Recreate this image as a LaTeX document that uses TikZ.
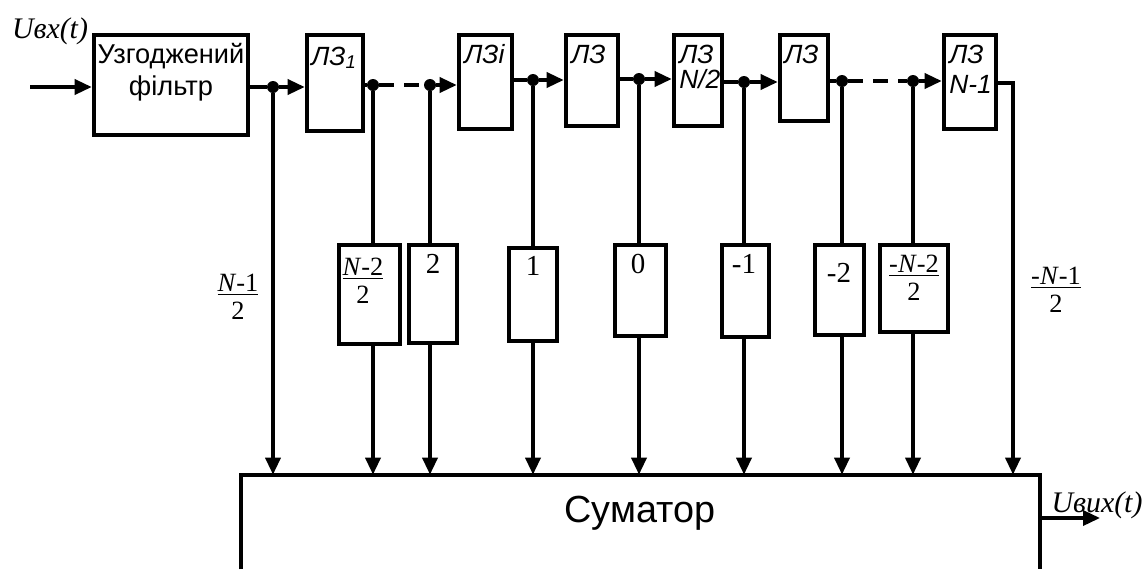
\documentclass[tikz,border=0pt]{standalone}
\usepackage{fontspec}
\setmainfont{Liberation Serif}
\setsansfont{Liberation Sans}
\usetikzlibrary{arrows.meta}

\newcommand{\wfrac}[2]{\underline{#1}\\#2}

\tikzset{
  blk/.style={draw, line width=2.6pt, inner sep=0pt},
  sig/.style={line width=2pt},
  arr/.style={sig, -{Triangle[length=0.34cm, width=0.3cm]}},
  tap/.style={circle, fill, inner sep=0pt, minimum size=0.24cm},
  ftxt/.style={font=\sffamily\fontsize{15.5}{18}\selectfont, inner sep=0pt, anchor=base},
  dztxt/.style={font=\sffamily\itshape\fontsize{15}{17}\selectfont, inner sep=0pt, anchor=base west},
  wtxt/.style={font=\fontsize{16.5}{19}\selectfont, inner sep=0pt, anchor=base},
  frtxt/.style={font=\fontsize{15}{15.5}\selectfont, inner sep=0pt, anchor=base, align=center},
  utxt/.style={font=\itshape\fontsize{17}{19}\selectfont, inner sep=0pt, anchor=base}
}

\begin{document}
\begin{tikzpicture}[x=0.02cm, y=-0.02cm]
  \useasboundingbox (0,0) rectangle (1147,569);

  \node [blk, minimum width=3.08cm, minimum height=2cm] (filt) at (171,85) {};
  \node [ftxt] (filt1) at (171,63) {Узгоджений};
  \node [ftxt] (filt2) at (171,95) {фільтр};

  \node [blk, minimum width=1.12cm, minimum height=1.92cm] (dz1) at (335,83) {};
  \node [blk, minimum width=1.06cm, minimum height=1.88cm] (dzi) at (485.5,82) {};
  \node [blk, minimum width=1.04cm, minimum height=1.82cm] (dz3) at (592,80.5) {};
  \node [blk, minimum width=0.96cm, minimum height=1.82cm] (dz4) at (698,80.5) {};
  \node [blk, minimum width=0.96cm, minimum height=1.72cm] (dz5) at (804,78) {};
  \node [blk, minimum width=1.04cm, minimum height=1.88cm] (dz6) at (970,82) {};
  \node [dztxt] (dz1t) at (311,65) {ЛЗ\textsubscript{1}};
  \node [dztxt] (dzit) at (464,63) {ЛЗi};
  \node [dztxt] (dz3t) at (571,63) {ЛЗ};
  \node [dztxt] (dz4t) at (679,63) {ЛЗ};
  \node [dztxt] (dz4n) at (679,88) {N/2};
  \node [dztxt] (dz5t) at (784,63) {ЛЗ};
  \node [dztxt] (dz6t) at (949,63) {ЛЗ};
  \node [dztxt] (dz6n) at (949,93) {N-1};

  \node [blk, minimum width=1.22cm, minimum height=1.98cm] (w1) at (369.5,294.5) {};
  \node [blk, minimum width=0.96cm, minimum height=1.96cm] (w2) at (433,294) {};
  \node [blk, minimum width=0.96cm, minimum height=1.86cm] (w3) at (533,294.5) {};
  \node [blk, minimum width=1.02cm, minimum height=1.82cm] (w4) at (640.5,290.5) {};
  \node [blk, minimum width=0.94cm, minimum height=1.84cm] (w5) at (745.5,291) {};
  \node [blk, minimum width=0.98cm, minimum height=1.80cm] (w6) at (839.5,290) {};
  \node [blk, minimum width=1.36cm, minimum height=1.74cm] (w7) at (914,288.5) {};
  \node [frtxt] (w1t) at (363,303) {\wfrac{\textit{N}-2}{2}};
  \node [wtxt] (w2t) at (433,273) {2};
  \node [wtxt] (w3t) at (533,275) {1};
  \node [wtxt] (w4t) at (638,273) {0};
  \node [wtxt] (w5t) at (744,273) {-1};
  \node [wtxt] (w6t) at (839,282) {-2};
  \node [frtxt] (w7t) at (914,300) {\wfrac{-\textit{N}-2}{2}};
  \node [frtxt] (w0t) at (238,319) {\wfrac{\textit{N}-1}{2}};
  \node [frtxt] (w8t) at (1056,312) {\wfrac{-\textit{N}-1}{2}};

  \node [minimum width=15.98cm, minimum height=1.88cm, inner sep=0pt] (sum) at (640.5,522) {};
  \draw [line width=2.2pt] (sum.south west) -- (sum.north west) -- (sum.north east) -- (sum.south east);
  \node [ftxt, font=\sffamily\fontsize{21.5}{24}\selectfont] (sumt) at (640,522) {Суматор};

  \node [utxt] (uint) at (50,38) {Uвх(t)};
  \node [utxt] (uoutt) at (1097,512) {Uвих(t)};
  \coordinate (uin) at (30,87);
  \coordinate (uout) at (1100,518);
  \coordinate (c9) at (1013,83);

  \node [tap] (t1) at (273,87) {};
  \node [tap] (t2) at (373,85) {};
  \node [tap] (t3) at (430,85) {};
  \node [tap] (t4) at (533,80) {};
  \node [tap] (t5) at (639,79) {};
  \node [tap] (t6) at (744,82) {};
  \node [tap] (t7) at (842,81) {};
  \node [tap] (t8) at (913,81) {};

  \draw [arr] (uin) -- (uin -| filt.west);
  \draw [sig] (filt.east |- t1) -- (t1);
  \draw [arr] (t1) -- (t1 -| dz1.west);
  \draw [sig] (dz1.east |- t2) -- (t2);
  \draw [sig, dash pattern=on 0.3cm off 0.2cm] (t2) -- (t3);
  \draw [arr] (t3) -- (t3 -| dzi.west);
  \draw [sig] (dzi.east |- t4) -- (t4);
  \draw [arr] (t4) -- (t4 -| dz3.west);
  \draw [sig] (dz3.east |- t5) -- (t5);
  \draw [arr] (t5) -- (t5 -| dz4.west);
  \draw [sig] (dz4.east |- t6) -- (t6);
  \draw [arr] (t6) -- (t6 -| dz5.west);
  \draw [sig] (dz5.east |- t7) -- (t7);
  \draw [sig, dash pattern=on 0.3cm off 0.2cm] (t7) -- (t8);
  \draw [arr] (t8) -- (t8 -| dz6.west);
  \draw [arr] (dz6.east |- c9) -- (c9) -- (c9 |- sum.north);
  \draw [arr] (uout -| sum.east) -- (uout);

  \draw [arr] (t1) -- (t1 |- sum.north);
  \draw [sig] (t2) -- (t2 |- w1.north);
  \draw [arr] (t2 |- w1.south) -- (t2 |- sum.north);
  \draw [sig] (t3) -- (t3 |- w2.north);
  \draw [arr] (t3 |- w2.south) -- (t3 |- sum.north);
  \draw [sig] (t4) -- (t4 |- w3.north);
  \draw [arr] (t4 |- w3.south) -- (t4 |- sum.north);
  \draw [sig] (t5) -- (t5 |- w4.north);
  \draw [arr] (t5 |- w4.south) -- (t5 |- sum.north);
  \draw [sig] (t6) -- (t6 |- w5.north);
  \draw [arr] (t6 |- w5.south) -- (t6 |- sum.north);
  \draw [sig] (t7) -- (t7 |- w6.north);
  \draw [arr] (t7 |- w6.south) -- (t7 |- sum.north);
  \draw [sig] (t8) -- (t8 |- w7.north);
  \draw [arr] (t8 |- w7.south) -- (t8 |- sum.north);
\end{tikzpicture}
\end{document}
